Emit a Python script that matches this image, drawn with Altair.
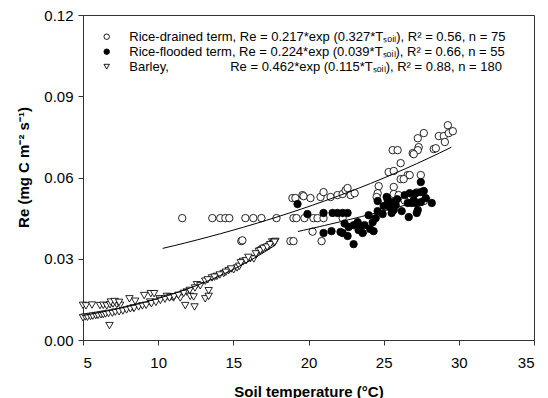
import altair as alt
import pandas as pd

# ---------------- data ----------------
drained_T = [11.6, 13.6, 14.13, 14.47, 14.73, 15.8, 16.33, 16.87, 17.87, 19.0, 19.2, 19.73, 20.33, 20.6, 21.0, 22.27,
             15.53, 15.6, 18.8, 19.0, 20.27, 20.87, 23.67,
             18.93, 19.13, 19.6, 19.67, 20.13, 20.8, 21.0, 21.47, 21.93, 22.27, 22.47, 22.6, 22.8, 23.07,
             29.27, 27.67, 27.27, 28.67, 29.0, 29.33, 29.6, 29.07, 28.33, 28.47, 27.33, 27.27, 26.93, 27.0,
             25.6, 25.93, 26.13, 25.33, 25.67, 26.6, 26.73, 27.47, 26.13, 26.33, 24.67, 25.67, 24.6, 25.67,
             26.0, 24.53, 27.67, 26.4, 27.2]
drained_Re = [0.045, 0.045, 0.045, 0.045, 0.045, 0.045, 0.045, 0.045, 0.045, 0.045, 0.045, 0.045, 0.045, 0.045, 0.045, 0.045,
              0.0365, 0.0368, 0.0365, 0.0365, 0.0400, 0.0365, 0.0402,
              0.0524, 0.0524, 0.0535, 0.0531, 0.0524, 0.0528, 0.0546, 0.0528, 0.0535, 0.0539, 0.0553, 0.0561, 0.0535, 0.0542,
              0.0793, 0.0764, 0.0745, 0.0753, 0.0753, 0.0764, 0.0771, 0.0731, 0.0705, 0.0708, 0.0712, 0.0701, 0.0690, 0.0686,
              0.0701, 0.0701, 0.0653, 0.0620, 0.0624, 0.0609, 0.0609, 0.0609, 0.0594, 0.0594, 0.0568, 0.0565, 0.0542, 0.0539,
              0.0535, 0.0528, 0.0513, 0.0515, 0.0545]

flooded_T = [19.27, 19.93, 21.0, 21.6, 21.93, 22.27, 22.6, 21.0, 21.53, 22.13, 22.27, 22.6, 23.0, 22.67, 23.0, 23.27,
             23.47, 23.33, 23.73, 24.0, 24.27, 24.33, 24.47, 24.6, 24.6, 24.93, 25.2, 25.27, 25.4, 25.6, 25.67, 25.53,
             25.8, 26.67, 26.73, 27.13, 27.47, 27.47, 27.67, 26.6, 26.87, 27.13, 27.47, 27.27, 27.2, 28.2,
             25.0, 26.2, 27.8, 23.6, 24.1, 22.4, 25.9, 26.4, 27.0]
flooded_Re = [0.0502, 0.0465, 0.0469, 0.0469, 0.0469, 0.0469, 0.0469, 0.0395, 0.0402, 0.0399, 0.0395, 0.0384, 0.0354, 0.0417, 0.0424, 0.0435,
              0.0421, 0.0406, 0.0424, 0.0461, 0.0435, 0.0402, 0.0450, 0.0476, 0.0513, 0.0465, 0.0528, 0.0517, 0.0491, 0.0509, 0.0480, 0.0469,
              0.0498, 0.0454, 0.0542, 0.0542, 0.0583, 0.0546, 0.0550, 0.0506, 0.0506, 0.0506, 0.0509, 0.0480, 0.0469, 0.0506,
              0.0495, 0.0476, 0.0524, 0.0395, 0.0410, 0.0430, 0.0520, 0.0535, 0.0517]

barley_T = [5.0, 5.2, 5.6, 6.13, 6.35, 6.58, 6.8, 7.0, 7.25, 7.47, 8.09, 8.47, 8.36, 9.07, 9.51, 9.73, 9.47, 10.09, 10.58,
            10.84, 11.02, 11.47, 11.8, 12.42, 11.9, 12.13, 12.36, 13.13, 13.36, 13.36, 6.76, 6.85, 7.1, 7.4,
            12.58, 12.8, 13.13, 13.58, 13.91, 14.36, 14.69, 15.02, 15.25, 15.64, 16.13, 16.36, 16.69, 16.91, 17.13, 17.36,
            17.58, 17.69, 13.3, 13.75, 14.1, 14.5, 14.85, 15.4, 15.5, 15.85, 16.0, 16.5, 16.8, 17.0, 17.25, 17.45, 17.8, 17.75,
            5.0, 5.15, 5.3, 5.5, 5.65, 5.85, 6.0, 6.2, 6.35, 6.5, 6.7, 6.95, 7.15, 7.4, 7.65, 7.9, 8.15, 8.4, 8.7, 8.95,
            9.2, 9.55, 9.85, 10.15, 10.45, 10.75, 11.05, 11.35, 11.7, 12.1, 12.45]
barley_Re = [0.0128, 0.0126, 0.0129, 0.0127, 0.0128, 0.0126, 0.0130, 0.0133, 0.0131, 0.0128, 0.0152, 0.0143, 0.0118, 0.0164, 0.0171, 0.0171, 0.0140, 0.0152, 0.0161,
             0.0159, 0.0155, 0.0155, 0.0127, 0.0122, 0.0177, 0.0161, 0.0159, 0.0152, 0.0161, 0.0182, 0.0053, 0.0140, 0.0142, 0.0139,
             0.0204, 0.0200, 0.0217, 0.0229, 0.0235, 0.0245, 0.0256, 0.0259, 0.0266, 0.0290, 0.0300, 0.0299, 0.0327, 0.0333, 0.0340, 0.0346,
             0.0362, 0.0358, 0.0222, 0.0232, 0.0240, 0.0250, 0.0262, 0.0272, 0.0285, 0.0293, 0.0305, 0.0318, 0.0330, 0.0338, 0.0343, 0.0352, 0.0364, 0.0361,
             0.0082, 0.0085, 0.0084, 0.0087, 0.0088, 0.0090, 0.0091, 0.0093, 0.0094, 0.0096, 0.0098, 0.0099, 0.0103, 0.0104, 0.0107, 0.0111, 0.0115, 0.0117, 0.0122, 0.0126,
             0.0128, 0.0134, 0.0139, 0.0146, 0.0151, 0.0155, 0.0160, 0.0165, 0.0172, 0.0183, 0.0192]

SUB = "\u209b\u2092\u1d62\u2097"  # "soil" as subscript
NB = "\u00a0"
labels = [
    f"Rice-drained term, Re = 0.217*exp (0.327*T{SUB}), R\u00b2 = 0.56, n = 75",
    f"Rice-flooded term, Re = 0.224*exp (0.039*T{SUB}), R\u00b2 = 0.66, n = 55",
    "Barley," + NB * 17 + f"Re = 0.462*exp (0.115*T{SUB}), R\u00b2 = 0.88, n = 180",
]
fit_extents = [[10.3, 29.5], [19.3, 28.1], [5.0, 17.8]]

frames = []
for lab, T, R in zip(labels, [drained_T, flooded_T, barley_T], [drained_Re, flooded_Re, barley_Re]):
    frames.append(pd.DataFrame({"T": T, "Re": R, "series": lab}))
df = pd.concat(frames, ignore_index=True)
leg_df = pd.DataFrame({"series": labels, "k": [0, 1, 2]})

shape_scale = alt.Scale(domain=labels, range=["circle", "circle", "triangle-down"])
fill_scale = alt.Scale(domain=labels, range=["white", "black", "white"])

x_enc = alt.X("T:Q", scale=alt.Scale(domain=[5, 35], nice=False, zero=False),
              axis=alt.Axis(values=[5, 10, 15, 20, 25, 30, 35], title="Soil temperature (°C)",
                            titleY=56, titleBaseline="alphabetic", labelPadding=10))
y_enc = alt.Y("Re:Q", scale=alt.Scale(domain=[0, 0.12], nice=False),
              axis=alt.Axis(values=[0, 0.03, 0.06, 0.09, 0.12], format=".2f",
                            title="Re (mg C m\u207b\u00b2 s\u207b\u00b9)",
                            titleX=-55, titleY=152, titleBaseline="alphabetic", labelPadding=5))

points = alt.Chart(df).mark_point(filled=True, stroke="black", strokeWidth=0.85, opacity=1).encode(
    x=x_enc,
    y=y_enc,
    shape=alt.Shape("series:N", scale=shape_scale, legend=None),
    fill=alt.Fill("series:N", scale=fill_scale, legend=None),
    size=alt.Size("series:N", scale=alt.Scale(domain=labels, range=[55, 55, 20]), legend=None),
)

fits = []
for lab, ext in zip(labels, fit_extents):
    fits.append(
        alt.Chart(df).transform_filter(alt.datum.series == lab)
        .transform_regression("T", "Re", method="exp", extent=ext)
        .mark_line(color="black", strokeWidth=1)
        .encode(x="T:Q", y="Re:Q")
    )

# in-plot legend
leg_base = alt.Chart(leg_df).transform_calculate(ly="21.7 + 15 * datum.k")
leg_sym = leg_base.mark_point(filled=True, stroke="black", strokeWidth=0.9, opacity=1, size=30).encode(
    x=alt.value(23.7),
    y=alt.Y("ly:Q", scale=None),
    shape=alt.Shape("series:N", scale=shape_scale, legend=None),
    fill=alt.Fill("series:N", scale=fill_scale, legend=None),
)
leg_txt = leg_base.mark_text(align="left", baseline="middle", fontSize=13, color="black",
                             font="Liberation Sans").encode(
    x=alt.value(46.3),
    y=alt.Y("ly:Q", scale=None),
    text="series:N",
)

chart = alt.layer(points, *fits, leg_sym, leg_txt).properties(
    width=451, height=325,
    padding={"left": 83, "top": 15, "right": 14, "bottom": 58},
    autosize=alt.AutoSizeParams(type="none"),
).configure(font="Liberation Sans").configure_view(
    stroke="#333333", strokeWidth=1
).configure_axis(
    grid=False, labelFontSize=15, titleFontSize=15, titleFontWeight="bold",
    labelColor="black", titleColor="black", domainColor="#333333", tickColor="#333333",
    tickSize=5, labelFont="Liberation Sans", titleFont="Liberation Sans"
)

chart.save("out.html", embed_options={"renderer": "svg", "actions": False})
